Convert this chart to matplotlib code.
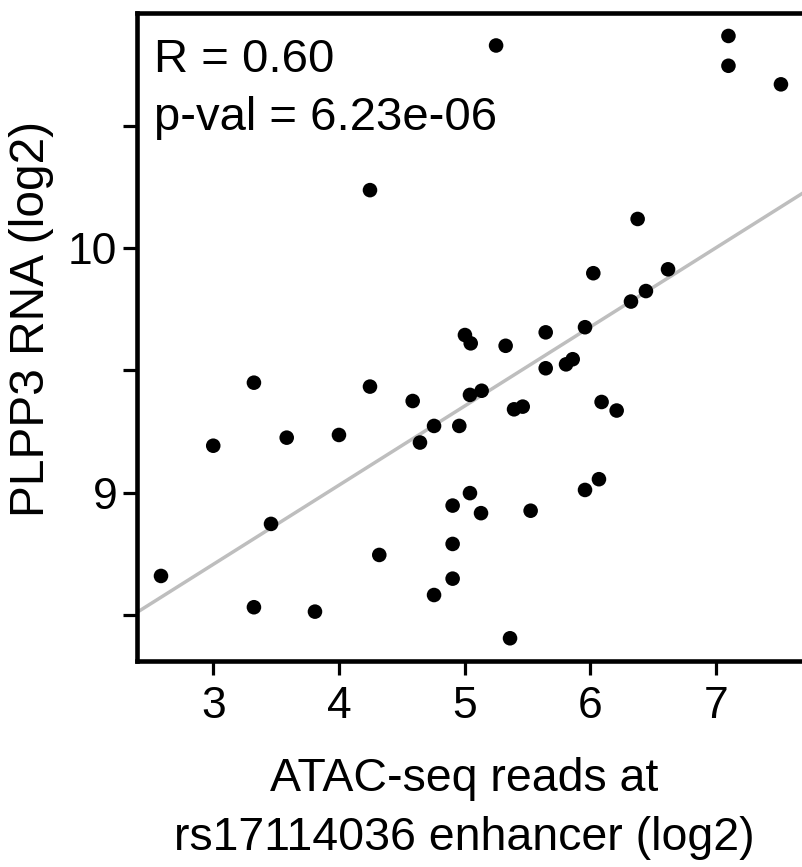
import matplotlib
matplotlib.use("Agg")
import matplotlib.pyplot as plt
import numpy as np

# ---- data ----
atac = [5.25, 4.246, 7.10, 7.10, 7.518, 6.377, 6.024, 6.619, 6.443, 6.324,
        5.958, 5.645, 5.326, 5.645, 5.807, 5.86, 5.393, 5.462, 6.09, 6.21,
        6.069, 5.958, 5.525, 5.361, 5.002, 5.048, 3.322, 4.246, 4.586, 5.042,
        5.135, 4.756, 4.957, 4.644, 2.998, 3.583, 3.999, 5.042, 4.904, 5.13,
        3.458, 4.904, 4.32, 2.582, 4.904, 4.756, 3.322, 3.808]
rna = [10.83, 10.238, 10.869, 10.747, 10.671, 10.12, 9.898, 9.914, 9.825, 9.782,
       9.677, 9.656, 9.601, 9.509, 9.525, 9.546, 9.341, 9.352, 9.371, 9.336,
       9.055, 9.011, 8.926, 8.404, 9.645, 9.611, 9.45, 9.434, 9.375, 9.40,
       9.417, 9.273, 9.273, 9.205, 9.192, 9.225, 9.236, 8.998, 8.947, 8.916,
       8.872, 8.79, 8.745, 8.659, 8.648, 8.581, 8.531, 8.513]
fit_intercept = 7.736
fit_slope = 0.3237
x_ticks = [3, 4, 5, 6, 7]
y_ticks = [8.5, 9, 9.5, 10, 10.5]
y_ticklabels = ["", "9", "", "10", ""]
annot_lines = ["R = 0.60", "p-val = 6.23e-06"]
xlabel = "ATAC-seq reads at\nrs17114036 enhancer (log2)"
ylabel = "PLPP3 RNA (log2)"

plt.rcParams['font.family'] = ['Liberation Sans', 'DejaVu Sans']

W, H = 803, 867
fig = plt.figure(figsize=(W / 100, H / 100), dpi=100)
xlim = (2.395, 7.9)
ylim = (8.313, 10.965)
left_px, bottom_px, top_px = 137.5, 660.5, 12.5
xscale = 125.6
ax_w = (xlim[1] - xlim[0]) * xscale / W
ax_h_px = bottom_px - top_px
ax = fig.add_axes([left_px / W, 1 - bottom_px / H, ax_w, ax_h_px / H])
ax.set_xlim(*xlim)
ax.set_ylim(*ylim)

xs = np.array(xlim)
ax.plot(xs, fit_intercept + fit_slope * xs, color="#BEBEBE", lw=2.5, zorder=1,
        solid_capstyle="butt")
ax.scatter(atac, rna, s=110, color="black", edgecolors="none", zorder=3)

for sp in ax.spines.values():
    sp.set_linewidth(3.3)
    sp.set_color("black")

ax.set_xticks(x_ticks)
ax.set_xticklabels([str(t) for t in x_ticks])
ax.set_yticks(y_ticks)
ax.set_yticklabels(y_ticklabels)
ax.tick_params(axis="both", direction="out", length=10, width=2.3, colors="black",
               labelsize=32)
ax.tick_params(axis="x", pad=8)
ax.tick_params(axis="y", pad=4.5)

ax.set_xlabel(xlabel, fontsize=33.5, linespacing=1.45)
ax.xaxis.set_label_coords((464 - left_px) / (ax_w * W), (bottom_px - 757) / ax_h_px)
ax.xaxis.label.set_va("top")
ax.set_ylabel(ylabel, fontsize=34.5)
ax.yaxis.set_label_coords((31 - left_px) / (ax_w * W), (bottom_px - 319) / ax_h_px)
ax.yaxis.label.set_va("center")

ax.text(154 / W, 1 - 71.7 / H, annot_lines[0], transform=fig.transFigure,
        fontsize=34, va="baseline", ha="left")
ax.text(154 / W, 1 - 130 / H, annot_lines[1], transform=fig.transFigure,
        fontsize=34, va="baseline", ha="left")

fig.savefig("out.png", dpi=100)
